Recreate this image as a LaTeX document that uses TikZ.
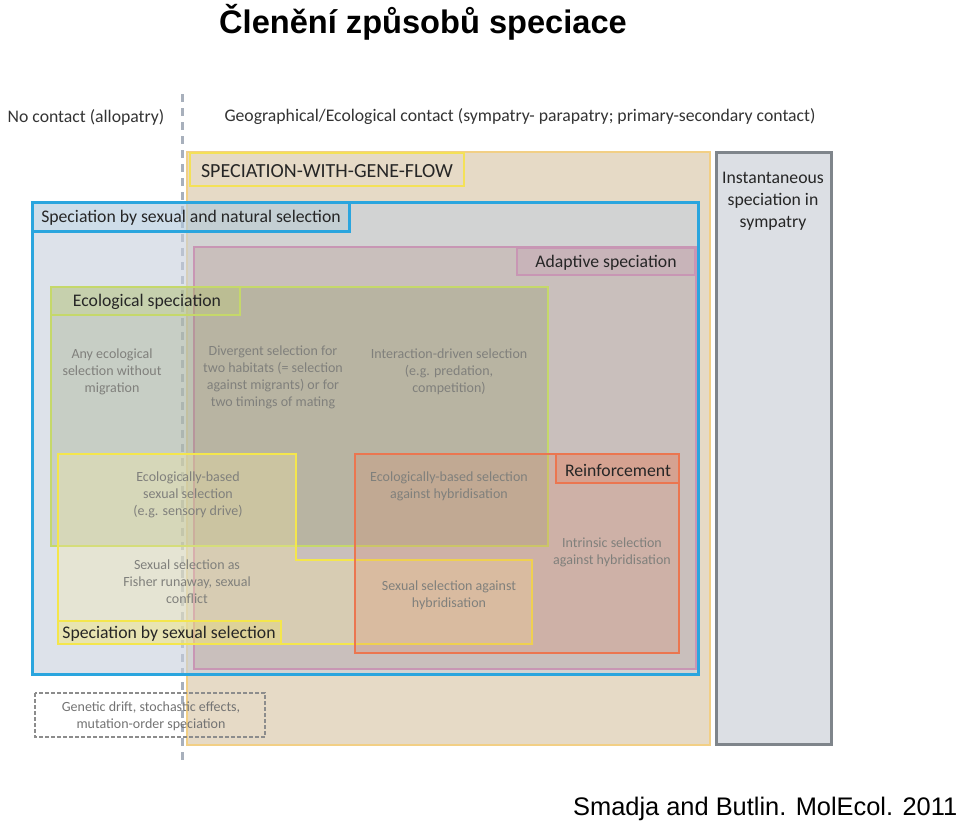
\documentclass[tikz,border=0pt]{standalone}
\usepackage{fontspec}
\setmainfont{Carlito}
\newfontfamily\arialfont{Liberation Sans}

\definecolor{tanfill}{RGB}{230,218,198}
\definecolor{tanline}{RGB}{242,207,133}
\definecolor{bluefill}{RGB}{198,207,220}
\definecolor{blueline}{RGB}{42,165,222}
\definecolor{pinkfill}{RGB}{188,163,155}
\definecolor{pinkline}{RGB}{200,150,180}
\definecolor{greenfill}{RGB}{136,148,88}
\definecolor{greenline}{RGB}{197,216,106}
\definecolor{yellowfill}{RGB}{250,235,160}
\definecolor{yellowline}{RGB}{244,230,76}
\definecolor{orangefill}{RGB}{225,130,95}
\definecolor{orangeline}{RGB}{235,118,80}
\definecolor{grayfill}{RGB}{220,223,228}
\definecolor{grayline}{RGB}{127,133,139}
\definecolor{dashgray}{RGB}{168,176,188}
\definecolor{notegray}{RGB}{128,128,124}

\newcommand\hdrsize{\fontsize{17.7}{22}\selectfont}
\newcommand\notesize{\fontsize{14}{17}\selectfont}

\begin{document}
\begin{tikzpicture}[x=1pt,y=-1pt,
  tanbox/.style={fill=tanfill,draw=tanline,line width=2.5pt},
  graybox/.style={fill=grayfill,draw=grayline,line width=3pt},
  bluebox/.style={fill=bluefill,fill opacity=0.6,draw=blueline,draw opacity=1,line width=3pt},
  pinkbox/.style={fill=pinkfill,fill opacity=0.4,draw=pinkline,draw opacity=1,line width=2.5pt},
  greenbox/.style={fill=greenfill,fill opacity=0.25,draw=greenline,draw opacity=1,line width=2.5pt},
  yellowbox/.style={fill=yellowfill,fill opacity=0.3,draw=yellowline,draw opacity=1,line width=2.5pt},
  orangebox/.style={fill=orangefill,fill opacity=0.22,draw=orangeline,draw opacity=1,line width=2.5pt},
  labbox/.style={draw=#1,fill=#1,fill opacity=0.25,draw opacity=1,line width=2.5pt},
  lab/.style={font=\hdrsize,text=black!85,inner sep=0pt,align=center},
  note/.style={font=\notesize,text=notegray,inner sep=0pt,align=center}]
  			\useasboundingbox (0,0) rectangle (960,822);
  			
  			% headers
  			\node (title) at (423,33) [anchor=base,font={\arialfont\bfseries\fontsize{32.6}{36}\selectfont}]{Členění způsobů speciace};
  			\node (nocontact) at (86,117) [lab,text=black!80]{No contact (allopatry)};
  			\node (contact) at (520,117) [lab,text=black!80]{Geographical/Ecological contact (sympatry- parapatry; primary-secondary contact)};
  			
  			\draw[dashgray,line width=3pt,dash pattern=on 8pt off 6pt] (182,94) -- (182,760); % allopatry | contact
  			
  			% big boxes
  			\draw[tanbox]    (187,152) rectangle (710,745); % gene flow
  			\draw[graybox]   (716,152) rectangle (831,744); % instantaneous
  			\draw[bluebox]   (32,202) rectangle (698,674);  % sexual + natural
  			\draw[pinkbox]   (194,247) rectangle (696,669); % adaptive
  			\draw[greenbox]  (51,287) rectangle (548,546);  % ecological
  			\draw[yellowbox] (58,454) -- (296,454) -- (296,560) -- (532,560) -- (532,644) -- (58,644) -- cycle; % sexual selection
  			\draw[orangebox] (355,454) rectangle (679,653); % reinforcement
  			
  			% label boxes
  			\draw[tanbox,draw=yellowline!80!tanline] (190,153) rectangle (464,186);
  			\draw[labbox=blueline,fill opacity=0.08,line width=3pt] (32,202) rectangle (349,231);
  			\draw[labbox=pinkline]   (517,248) rectangle (695,275);
  			\draw[labbox=greenline]  (51,287) rectangle (240,315);
  			\draw[labbox=yellowline] (58,621) rectangle (281,644);
  			\draw[labbox=orangeline] (556,454) rectangle (679,483);
  			
  			\node (geneflow) at (327,171) [lab,font={\fontsize{20}{24}\selectfont}]{SPECIATION-WITH-GENE-FLOW};
  			\node (sexnat) at (191,218) [lab]{Speciation by sexual and natural selection};
  			\node (adaptive) at (606,263) [lab]{Adaptive speciation};
  			\node (ecol) at (147,302) [lab]{Ecological speciation};
  			\node (sexsel) at (169,634) [lab]{Speciation by sexual selection};
  			\node (reinf) at (618,470) [lab]{Reinforcement};
  			\node (instant) at (773,201) [lab]{Instantaneous\\speciation in\\sympatry};
  			
  			% texts inside
  			\node (nomigr) at (112,372) [note]{Any ecological\\selection without\\migration};
  			\node (diverg) at (273,377) [note]{Divergent selection for\\two habitats (= selection\\against migrants) or for\\two timings of mating};
  			\node (interact) at (449,372) [note]{Interaction-driven selection\\(e.g. predation,\\competition)};
  			\node (sensory) at (188,495) [note]{Ecologically-based\\sexual selection\\(e.g. sensory drive)};
  			\node (ecohyb) at (449,486) [note]{Ecologically-based selection\\against hybridisation};
  			\node (fisher) at (187,582) [note]{Sexual selection as\\Fisher runaway, sexual\\conflict};
  			\node (sexhyb) at (449,595) [note]{Sexual selection against\\hybridisation};
  			\node (intrinsic) at (612,552) [note]{Intrinsic selection\\against hybridisation};
  			
  			% drift
  			\draw[black!45,line width=2.5pt,dash pattern=on 4pt off 2pt] (35,693) rectangle (265,737);
  			\node (drift) at (151,716) [note,text=black!55]{Genetic drift, stochastic effects,\\mutation-order speciation};
  			
  			\node (credit) at (573,815) [anchor=base west,inner sep=0pt,font={\arialfont\fontsize{25.4}{30}\selectfont}]{Smadja and Butlin. MolEcol. 2011};
  			
  			\end{tikzpicture}
\end{document}
